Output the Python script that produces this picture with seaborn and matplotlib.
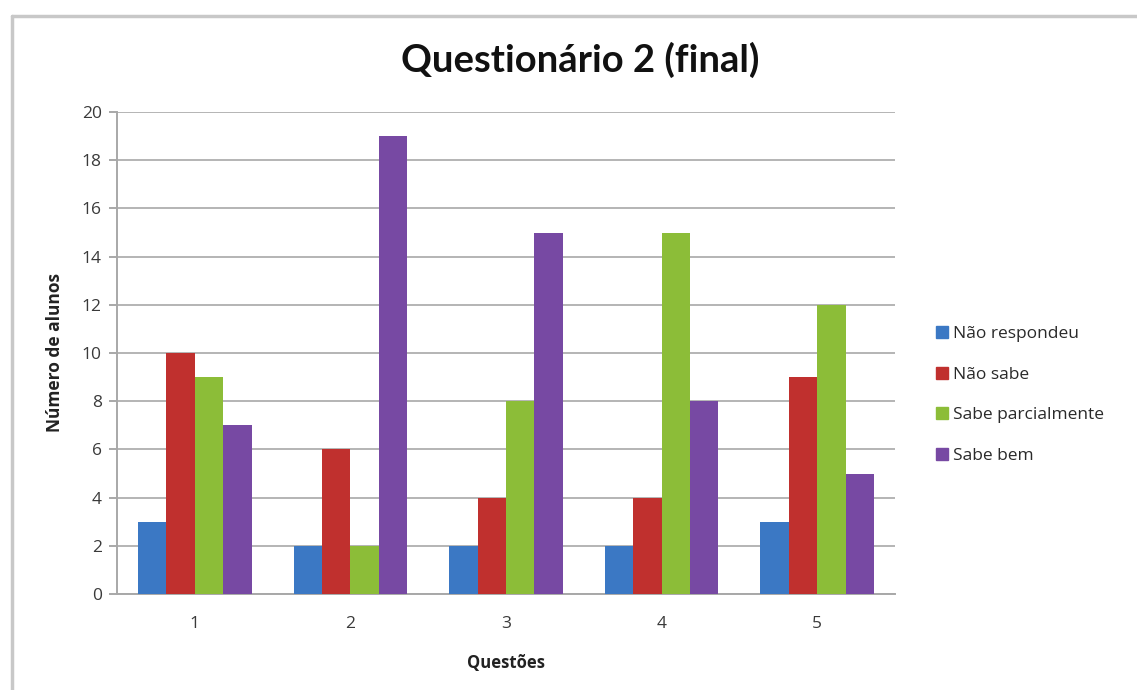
import matplotlib
matplotlib.use("Agg")
import matplotlib.pyplot as plt
import seaborn as sns
import pandas as pd
from matplotlib.lines import Line2D

questoes = ["1", "2", "3", "4", "5"]
series = ["Não respondeu", "Não sabe", "Sabe parcialmente", "Sabe bem"]
nao_respondeu = [3, 2, 2, 2, 3]
nao_sabe = [10, 6, 4, 4, 9]
sabe_parcialmente = [9, 2, 8, 15, 12]
sabe_bem = [7, 19, 15, 8, 5]
colors = ["#3b78c4", "#c0302e", "#8cbd38", "#7749a3"]

rows = []
for name, vals in zip(series, [nao_respondeu, nao_sabe, sabe_parcialmente, sabe_bem]):
    for q, v in zip(questoes, vals):
        rows.append({"Questões": q, "Série": name, "Valor": v})
df = pd.DataFrame(rows)

sns.set_style("white")
plt.rcParams['font.family'] = ['Open Sans', 'DejaVu Sans']

fig = plt.figure(figsize=(11.37, 6.9), dpi=100)
ax = fig.add_axes([117/1137, 1 - 594/690, (895-117)/1137, (594-112)/690])

sns.barplot(data=df, x="Questões", y="Valor", hue="Série", hue_order=series,
            order=questoes, palette=colors, width=0.73, gap=0, ax=ax,
            saturation=1, errorbar=None, legend=False, zorder=3, linewidth=0)

ax.set_ylim(0, 20)
ax.set_xlim(-0.5, 4.5)
ax.set_yticks(range(0, 21, 2))
ax.yaxis.grid(True, color="#b4b4b4", linewidth=1.4, zorder=0)
ax.xaxis.grid(False)
ax.set_axisbelow(True)
for s in ["top", "right"]:
    ax.spines[s].set_visible(False)
ax.spines["left"].set_color("#a8a8a8")
ax.spines["left"].set_linewidth(1.4)
ax.spines["bottom"].set_color("#a8a8a8")
ax.spines["bottom"].set_linewidth(1.4)
ax.tick_params(axis="y", left=True, length=6, width=1.4, color="#a8a8a8",
               labelsize=12.5, labelcolor="#3a3a3a", pad=5)
ax.tick_params(axis="x", bottom=False, labelsize=12.5, labelcolor="#3a3a3a", pad=12)

ax.set_ylabel("Número de alunos", fontsize=12.5, fontweight="bold", color="#222222")
ax.set_xlabel("Questões", fontsize=12, fontweight="bold", color="#222222")
ax.yaxis.set_label_coords(-0.068, 0.5)
ax.xaxis.set_label_coords(0.5, -0.124)

fig.text(580/1137, 1 - 60/690, "Questionário 2 (final)", ha="center", va="center",
         fontsize=27.5, fontweight="bold", color="#111111", family=['Lato', 'DejaVu Sans'])

handles = [Line2D([0], [0], marker="s", linestyle="", markersize=8,
                  markerfacecolor=c, markeredgecolor=c) for c in colors]
fig.legend(handles, series, loc="upper left", bbox_to_anchor=(919/1137, 1 - 310/690),
           frameon=False, fontsize=12.5, labelspacing=1.42, handlelength=0.8,
           handletextpad=0.25, labelcolor="#2a2a2a")

# chart-area border (top and left visible)
fig.add_artist(Line2D([12/1137, 12/1137], [0, 1 - 16/690], color="#c8c8c8", linewidth=2.5,
                      transform=fig.transFigure))
fig.add_artist(Line2D([12/1137, 1], [1 - 16/690, 1 - 16/690], color="#c8c8c8", linewidth=2.5,
                      transform=fig.transFigure))

fig.savefig("out.png", dpi=100, facecolor="white")
